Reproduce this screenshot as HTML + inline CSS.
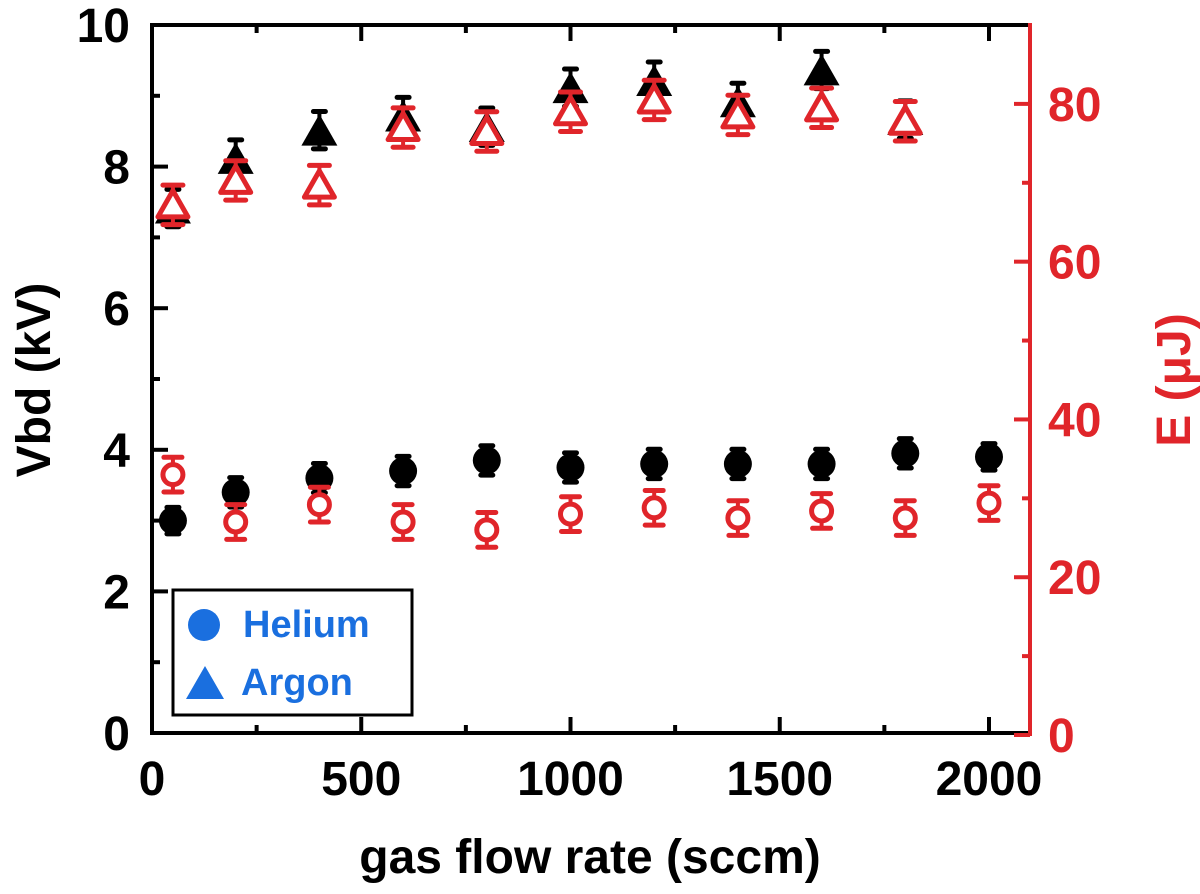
<!DOCTYPE html>
<html><head><meta charset="utf-8"><style>
html,body{margin:0;padding:0;background:#fff;}
svg{display:block;font-family:"Liberation Sans",Arial,sans-serif;font-weight:bold;}
</style></head><body>
<svg id="chart" width="1200" height="894" viewBox="0 0 1200 894">
<g id="marks"></g>
<g id="axes"></g>
</svg>
<script>
const flowHe = [50,200,400,600,800,1000,1200,1400,1600,1800,2000];
const vbdHe = [3.0,3.4,3.6,3.7,3.85,3.75,3.8,3.8,3.8,3.95,3.9];
const vbdHeErr = [0.06,0.08,0.08,0.08,0.08,0.08,0.08,0.08,0.08,0.08,0.06];
const eHe = [33,27,29.2,27,26,28,28.8,27.5,28.4,27.5,29.4];
const eHeErr = [2.2,2.2,2.2,2.2,2.2,2.2,2.2,2.2,2.2,2.2,2.2];
const flowAr = [50,200,400,600,800,1000,1200,1400,1600,1800];
const vbdAr = [7.4,8.1,8.5,8.7,8.55,9.1,9.2,8.9,9.35,8.65];
const vbdArErr = [0.08,0.08,0.08,0.08,0.08,0.08,0.08,0.08,0.08,0.08];
const eAr = [67.2,70.3,69.7,77,76.5,79,80.5,78.6,79.5,77.8];
const eArErr = [2.5,2.5,2.5,2.5,2.5,2.5,2.5,2.5,2.5,2.5];
const xTicks = [0,500,1000,1500,2000];
const yTicks = [0,2,4,6,8,10];
const y2Ticks = [0,20,40,60,80];

const L=152,R=1030,T=25,B=733,B2=735;
const X=v=>L+v*(R-L)/2098;
const Y=v=>B-v*(B-T)/10;
const Y2=v=>B2-v*(B2-T)/90;
const NS="http://www.w3.org/2000/svg";
const marks=document.getElementById('marks'), axes=document.getElementById('axes');
function mk(parent,tag,attrs){const e=document.createElementNS(NS,tag);for(const k in attrs)e.setAttribute(k,attrs[k]);parent.appendChild(e);return e;}

function errbar(g,x,y1,y2,color,w){
  mk(g,'line',{x1:x,x2:x,y1:y1,y2:y2,stroke:color,'stroke-width':4});
  mk(g,'line',{x1:x-w,x2:x+w,y1:y1,y2:y1,stroke:color,'stroke-width':5,'stroke-linecap':'round'});
  mk(g,'line',{x1:x-w,x2:x+w,y1:y2,y2:y2,stroke:color,'stroke-width':5,'stroke-linecap':'round'});
}
function tri(cx,cy,s){return `${cx-s},${cy+s*0.8} ${cx+s},${cy+s*0.8} ${cx},${cy-s*0.95}`;}

flowAr.forEach((f,i)=>{
  const g=mk(marks,'g',{});
  
  
  const x=X(f);
  errbar(g,x,Y(vbdAr[i]+vbdArErr[i])-14,Y(vbdAr[i]-vbdArErr[i])+12,'#000',6);
  mk(g,'polygon',{points:tri(x,Y(vbdAr[i]),18),fill:'#000'});
});
flowHe.forEach((f,i)=>{
  const g=mk(marks,'g',{});
  
  
  const x=X(f);
  errbar(g,x,Y(vbdHe[i]+vbdHeErr[i])-9,Y(vbdHe[i]-vbdHeErr[i])+9,'#000',6);
  mk(g,'circle',{cx:x,cy:Y(vbdHe[i]),r:14,fill:'#000'});
});
flowAr.forEach((f,i)=>{
  const g=mk(marks,'g',{});
  
  
  const x=X(f);
  errbar(g,x,Y2(eAr[i]+eArErr[i]),Y2(eAr[i]-eArErr[i]),'#e0252a',10);
  mk(g,'polygon',{points:tri(x,Y2(eAr[i]),15),fill:'#fff',stroke:'#e0252a','stroke-width':5,'stroke-linejoin':'round'});
});
flowHe.forEach((f,i)=>{
  const g=mk(marks,'g',{});
  
  
  const x=X(f);
  errbar(g,x,Y2(eHe[i]+eHeErr[i]),Y2(eHe[i]-eHeErr[i]),'#e0252a',9);
  mk(g,'circle',{cx:x,cy:Y2(eHe[i]),r:10,fill:'#fff',stroke:'#e0252a','stroke-width':5});
});

let e;
e=mk(axes,'line',{x1:L,x2:R,y1:T,y2:T,stroke:'#000','stroke-width':4});

e=mk(axes,'line',{x1:L,x2:R,y1:B,y2:B,stroke:'#000','stroke-width':4});

e=mk(axes,'line',{x1:L,x2:L,y1:T-2,y2:B+2,stroke:'#000','stroke-width':4});

e=mk(axes,'line',{x1:R,x2:R,y1:T-2,y2:B2+1,stroke:'#e0252a','stroke-width':4});


for(let v=0;v<=2000;v+=250){
  const major=v%500===0;
  mk(axes,'line',{x1:X(v),x2:X(v),y1:B,y2:B-(major?16:8),stroke:'#000','stroke-width':4});
  mk(axes,'line',{x1:X(v),x2:X(v),y1:T,y2:T+(major?16:8),stroke:'#000','stroke-width':4});
}
xTicks.forEach(v=>{
  const t=mk(axes,'text',{x:X(v),y:795,'text-anchor':'middle','font-size':48,fill:'#000'});
  t.textContent=v;
  
});
for(let v=0;v<=10;v+=1){
  mk(axes,'line',{x1:L,x2:L+(v%2===0?16:8),y1:Y(v),y2:Y(v),stroke:'#000','stroke-width':4});
}
yTicks.forEach(v=>{
  const t=mk(axes,'text',{x:130,y:Y(v)+17,'text-anchor':'end','font-size':48,fill:'#000'});
  t.textContent=v;
  
});
for(let v=0;v<=80;v+=10){
  mk(axes,'line',{x1:R,x2:R-(v%20===0?16:8),y1:Y2(v),y2:Y2(v),stroke:'#e0252a','stroke-width':4});
}
y2Ticks.forEach(v=>{
  const t=mk(axes,'text',{x:1048,y:Y2(v)+17,'text-anchor':'start','font-size':48,fill:'#e0252a'});
  t.textContent=v;
  
});
e=mk(axes,'text',{x:590,y:873,'text-anchor':'middle','font-size':48,fill:'#000'});
e.textContent='gas flow rate (sccm)';

e=mk(axes,'text',{x:0,y:0,'text-anchor':'middle','font-size':48,fill:'#000',transform:'translate(50,380) rotate(-90)'});
e.textContent='Vbd (kV)';

e=mk(axes,'text',{x:0,y:0,'text-anchor':'middle','font-size':48,fill:'#e0252a',transform:'translate(1190,380) rotate(-90)'});
e.textContent='E (μJ)';


const lg=mk(axes,'g',{});

mk(lg,'rect',{x:173,y:590,width:239,height:125,fill:'#fff',stroke:'#000','stroke-width':3});
const l1=mk(lg,'g',{});

mk(l1,'circle',{cx:204,cy:625,r:16,fill:'#1a6fdf'});
e=mk(l1,'text',{x:243,y:637,'font-size':38,fill:'#1a6fdf'});e.textContent='Helium';
const l2=mk(lg,'g',{});

mk(l2,'polygon',{points:'186,699 224,699 205,666',fill:'#1a6fdf'});
e=mk(l2,'text',{x:241,y:695,'font-size':38,fill:'#1a6fdf'});e.textContent='Argon';
</script>
</body></html>
